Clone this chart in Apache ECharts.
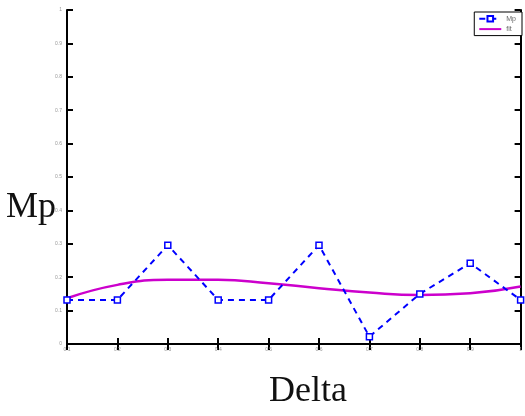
<!DOCTYPE html>
<html><head><meta charset="utf-8">
<script src="https://cdn.jsdelivr.net/npm/echarts@6/dist/echarts.min.js"></script>
<style>html,body{margin:0;padding:0;background:#fff}#c{width:525px;height:416px}</style>
</head><body><div id="c"></div>
<script>
var categories = ['0.1','0.2','0.3','0.4','0.5','0.6','0.7','0.8','0.9','1'];
var mpValues = [0.132, 0.132, 0.296, 0.132, 0.132, 0.296, 0.022, 0.150, 0.242, 0.132];
var fitValues = [0.137, 0.177, 0.192, 0.192, 0.182, 0.167, 0.154, 0.147, 0.152, 0.172];
var yTicks = [0, 0.1, 0.2, 0.3, 0.4, 0.5, 0.6, 0.7, 0.8, 0.9, 1];
var seriesNames = ['Mp', 'fit'];

var chart = echarts.init(document.getElementById('c'));
var axisLine = {show:true, lineStyle:{color:'#000', width:2}};
chart.setOption({
  animation:false,
  backgroundColor:'#fff',
  grid:{left:67, right:3, top:10, bottom:72, show:false},
  legend:{
    right:3, top:12, orient:'vertical', itemGap:3, itemWidth:22, itemHeight:7,
    padding:[3,6,3,4], borderColor:'#000', borderWidth:1, backgroundColor:'#fff',
    textStyle:{fontSize:7, color:'#666'},
    data:[{name:seriesNames[0]}, {name:seriesNames[1], itemStyle:{opacity:0}}]
  },
  graphic:[
    {type:'text', left:6, top:190, style:{text:'Mp', font:'36px "Liberation Serif", serif', fill:'#111'}},
    {type:'text', left:269, top:374, style:{text:'Delta', font:'36px "Liberation Serif", serif', fill:'#111'}}
  ],
  xAxis:[
    {type:'category', data:categories, boundaryGap:false, axisLine:axisLine,
     axisTick:{show:true, inside:true, length:6, lineStyle:{color:'#000', width:2}},
     axisLabel:{fontSize:5, color:'#999', margin:3}, splitLine:{show:false}},
    {type:'category', data:categories, boundaryGap:false, position:'top', axisLine:axisLine,
     axisTick:{show:true, inside:true, length:6, lineStyle:{color:'#000', width:2}},
     axisLabel:{show:false}, splitLine:{show:false}}
  ],
  yAxis:[
    {type:'value', min:0, max:1, interval:0.1, axisLine:axisLine,
     axisTick:{show:true, inside:true, length:6, lineStyle:{color:'#000', width:2}},
     axisLabel:{fontSize:5, color:'#999', margin:5, formatter:function(v){return String(Math.round(v*10)/10);}},
     splitLine:{show:false}},
    {type:'value', min:0, max:1, interval:0.1, position:'right', axisLine:axisLine,
     axisTick:{show:true, inside:true, length:6, lineStyle:{color:'#000', width:2}},
     axisLabel:{show:false}, splitLine:{show:false}}
  ],
  series:[
    {name:seriesNames[0], type:'line', data:mpValues, symbol:'rect', symbolSize:6,
     lineStyle:{color:'#0000ff', width:2, type:[6,5]},
     itemStyle:{color:'#fff', borderColor:'#0000ff', borderWidth:1.5}, z:3},
    {name:seriesNames[1], type:'line', data:fitValues, smooth:true, symbol:'none',
     lineStyle:{color:'#cc00cc', width:2.5}, itemStyle:{color:'#cc00cc'}, z:2}
  ]
});
</script></body></html>
